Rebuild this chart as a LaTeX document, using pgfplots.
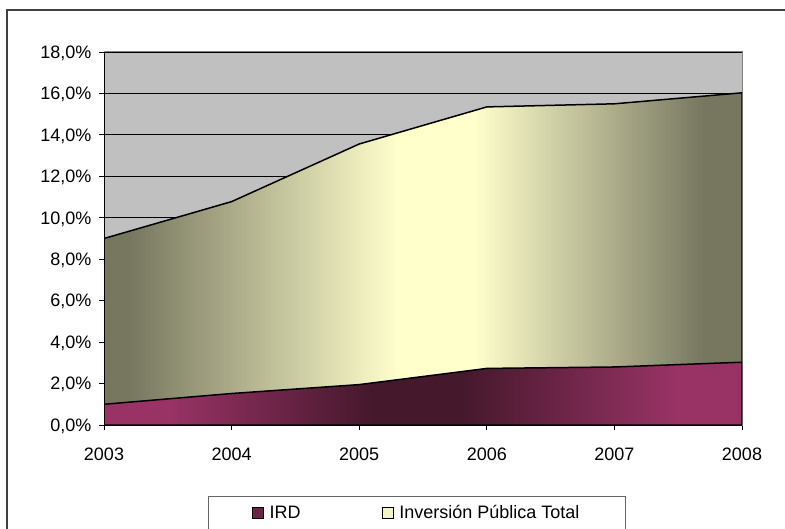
\documentclass[border=0pt]{standalone}
\usepackage{pgfplots}
\pgfplotsset{compat=1.18}
\usepackage{fontspec}
\setmainfont{Liberation Sans}
\definecolor{bggray}{HTML}{C0C0C0}
\definecolor{oliveedge}{HTML}{777760}
\definecolor{yelmid}{HTML}{FFFFCC}
\definecolor{irdedge}{HTML}{993366}
\definecolor{irdmid}{HTML}{45182C}
\definecolor{irdleg}{HTML}{6B2448}
\definecolor{totleg}{HTML}{F4F4C4}
\pgfdeclarehorizontalshading{totshade}{100bp}{color(0bp)=(oliveedge); color(25bp)=(oliveedge); color(27bp)=(oliveedge); color(48bp)=(yelmid); color(54bp)=(yelmid); color(72bp)=(oliveedge); color(75bp)=(oliveedge); color(100bp)=(oliveedge)}
\pgfdeclarehorizontalshading{irdshade}{100bp}{color(0bp)=(irdedge); color(25bp)=(irdedge); color(30bp)=(irdedge); color(46bp)=(irdmid); color(53bp)=(irdmid); color(70bp)=(irdedge); color(75bp)=(irdedge); color(100bp)=(irdedge)}

\pgfplotstableread{
year total ird
2003 9.00 1.00
2004 10.78 1.52
2005 13.56 1.95
2006 15.35 2.73
2007 15.50 2.80
2008 16.03 3.03
}\datatable

\begin{document}
\begin{tikzpicture}
\useasboundingbox (0pt,0pt) rectangle (785pt,528pt);
\draw[line width=1.5pt, black!75] (7pt,-20pt) -- (7pt,518pt) -- (800pt,518pt);
\draw[black!60, line width=1pt] (208pt,-20pt) rectangle (625pt,32pt);
\begin{axis}[
  at={(104pt,103pt)}, anchor=south west,
  scale only axis, width=638pt, height=373pt,
  xmin=2003, xmax=2008, ymin=0, ymax=18,
  xtick={2003,2004,2005,2006,2007,2008},
  xticklabels={2003,2004,2005,2006,2007,2008},
  ytick={0,2,4,6,8,10,12,14,16,18},
  yticklabels={{0,0\%},{2,0\%},{4,0\%},{6,0\%},{8,0\%},{10,0\%},{12,0\%},{14,0\%},{16,0\%},{18,0\%}},
  ymajorgrids, grid style={black, line width=0.8pt},
  axis background/.style={fill=bggray},
  axis line style={draw=gray, line width=1pt},
  tick align=outside, major tick length=5pt, tick pos=left,
  major tick style={black, line width=0.8pt},
  ticklabel style={font=\fontsize{18}{22}\selectfont, text depth=0pt},
  yticklabel style={xshift=-4pt},
  xticklabel style={yshift=-14pt},
  legend columns=2,
  legend style={draw=none, fill=none, inner sep=0pt, nodes={inner sep=5.5pt}, at={(0.232,-0.236)}, anchor=west,
    font=\fontsize{18}{22}\selectfont,
    /tikz/every even column/.append style={column sep=76pt}},
  legend cell align=left,
]
\addplot[forget plot, draw=black, line width=1.5pt, shading=totshade, shade] table[x=year,y=total] {\datatable} \closedcycle;
\addplot[forget plot, draw=black, line width=1.5pt, shading=irdshade, shade] table[x=year,y=ird] {\datatable} \closedcycle;
\draw[black, line width=1pt] (rel axis cs:0,0) -- (rel axis cs:0,1);
\addlegendimage{legend image code/.code={\draw[black, line width=0.8pt, fill=irdleg] (0pt,-5.5pt) rectangle (11pt,5.5pt);}}
\addlegendentry{IRD}
\addlegendimage{legend image code/.code={\draw[black, line width=0.8pt, fill=totleg] (0pt,-5.5pt) rectangle (11pt,5.5pt);}}
\addlegendentry{Inversión Pública Total}
\end{axis}
\end{tikzpicture}
\end{document}
